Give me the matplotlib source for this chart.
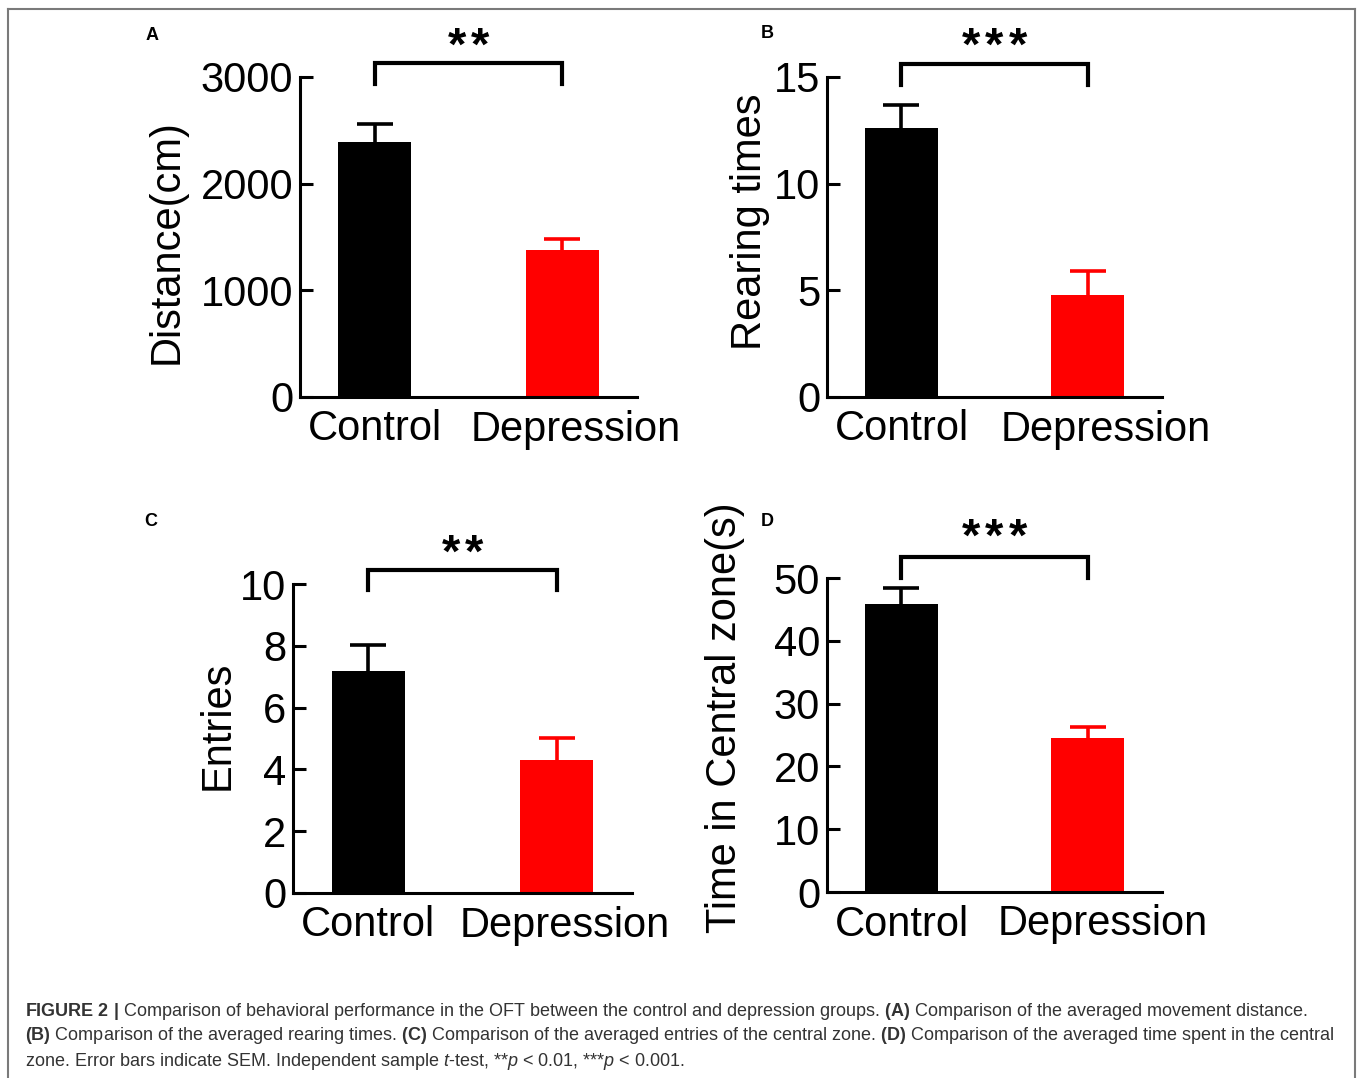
import matplotlib.pyplot as plt
from matplotlib.lines import Line2D
from matplotlib.transforms import ScaledTranslation

plt.rcParams['font.family'] = ['Liberation Sans', 'DejaVu Sans']
plt.rcParams['mathtext.fontset'] = 'custom'
plt.rcParams['mathtext.rm'] = 'Liberation Sans'
plt.rcParams['mathtext.it'] = 'Liberation Sans:italic'
plt.rcParams['mathtext.bf'] = 'Liberation Sans:bold'

groups = ['Control', 'Depression']
bar_colors = ['#000000', '#ff0000']

distance_mean = [2390, 1380]
distance_sem = [170, 105]
rearing_mean = [12.6, 4.8]
rearing_sem = [1.1, 1.1]
entries_mean = [7.2, 4.3]
entries_sem = [0.82, 0.72]
central_mean = [45.9, 24.5]
central_sem = [2.5, 1.8]

W, H = 1358, 1078
fig = plt.figure(figsize=(W / 100, H / 100), dpi=100)


def px_axes(left, top, right, bottom):
    return fig.add_axes([left / W, 1 - bottom / H, (right - left) / W, (bottom - top) / H])


def draw_panel(box, letter, letter_xy, means, sems, ymax, ystep, ylabel, ylabel_xy,
               stars, bracket_top, bracket_leg, star_y, label_shift):
    ax = px_axes(*box)
    x = [0, 1]
    ax.bar(x, means, width=0.39, color=bar_colors, zorder=2)
    for xi, m, s, c in zip(x, means, sems, bar_colors):
        # upper error bar only
        _, caps, _ = ax.errorbar(xi, m, yerr=[[0], [s]], fmt='none', ecolor=c,
                                 elinewidth=2.6, capsize=13.3, capthick=2.6, zorder=3)
        caps[0].set_visible(False)
    ax.set_xlim(-0.4, 1.4)
    ax.set_ylim(0, ymax)
    ax.set_yticks(range(0, ymax + 1, ystep))
    ax.set_xticks(x)
    ax.set_xticklabels(groups)
    for side in ['top', 'right']:
        ax.spines[side].set_visible(False)
    for side in ['left', 'bottom']:
        ax.spines[side].set_linewidth(2.2)
    ax.tick_params(axis='y', direction='in', length=9.5, width=2.2, pad=5, labelsize=30)
    ax.tick_params(axis='x', length=0, pad=9, labelsize=30)
    lbl = ax.get_xticklabels()[1]
    lbl.set_transform(lbl.get_transform() +
                      ScaledTranslation(label_shift / 100, 0, fig.dpi_scale_trans))

    # significance bracket between the two groups
    ax.plot([0, 0, 1, 1], [bracket_leg, bracket_top, bracket_top, bracket_leg],
            color='black', lw=3, clip_on=False, solid_joinstyle='miter')
    n = len(stars)
    for k in range(n):
        ax.text(0.5 + (k - (n - 1) / 2) * 0.125, star_y, '*', ha='center', va='center',
                fontsize=34, fontweight='bold', clip_on=False)

    fig.text(ylabel_xy[0] / W, 1 - ylabel_xy[1] / H, ylabel, rotation=90,
             ha='center', va='center', fontsize=30)
    fig.text(letter_xy[0] / W, 1 - letter_xy[1] / H, letter, ha='center',
             va='center', fontsize=13, fontweight='bold')
    return ax


draw_panel((300, 77, 637, 397), 'A', (152, 35), distance_mean, distance_sem,
           3000, 1000, 'Distance(cm)', (167, 242), '**', 3131, 2934, 3274, 14)
draw_panel((827, 77, 1162, 397), 'B', (767, 34), rearing_mean, rearing_sem,
           15, 5, 'Rearing times', (750, 222), '***', 15.6, 14.63, 16.37, 18)
draw_panel((293, 584, 632, 893), 'C', (151, 521), entries_mean, entries_sem,
           10, 2, 'Entries', (218, 725), '**', 10.45, 9.8, 10.96, 8)
draw_panel((827, 578, 1162, 892), 'D', (767, 521), central_mean, central_sem,
           50, 10, 'Time in Central zone(s)', (725, 718), '***', 53.3, 50.0, 56.25, 15)

# frame around the figure area
frame = dict(color='#7a7a7a', lw=1.5, transform=fig.transFigure)
fig.add_artist(Line2D([8 / W, 8 / W], [0, 1 - 9 / H], **frame))
fig.add_artist(Line2D([8 / W, 1355 / W], [1 - 9 / H, 1 - 9 / H], **frame))
fig.add_artist(Line2D([1355 / W, 1355 / W], [0, 1 - 9 / H], **frame))

caption = [
    r'$\mathbf{FIGURE\ 2\ |}$ Comparison of behavioral performance in the OFT between the control and depression groups. '
    r'$\mathbf{(A)}$ Comparison of the averaged movement distance.',
    r'$\mathbf{(B)}$ Comparison of the averaged rearing times. $\mathbf{(C)}$ Comparison of the averaged entries of the central zone. '
    r'$\mathbf{(D)}$ Comparison of the averaged time spent in the central',
    r'zone. Error bars indicate SEM. Independent sample $\mathit{t}$-test, **$\mathit{p}$ < 0.01, ***$\mathit{p}$ < 0.001.',
]
for i, line in enumerate(caption):
    fig.text(25 / W, 1 - (1011 + 25 * i) / H, line, ha='left', va='center',
             fontsize=13, color='#333333')

fig.savefig('out.png', dpi=100)
